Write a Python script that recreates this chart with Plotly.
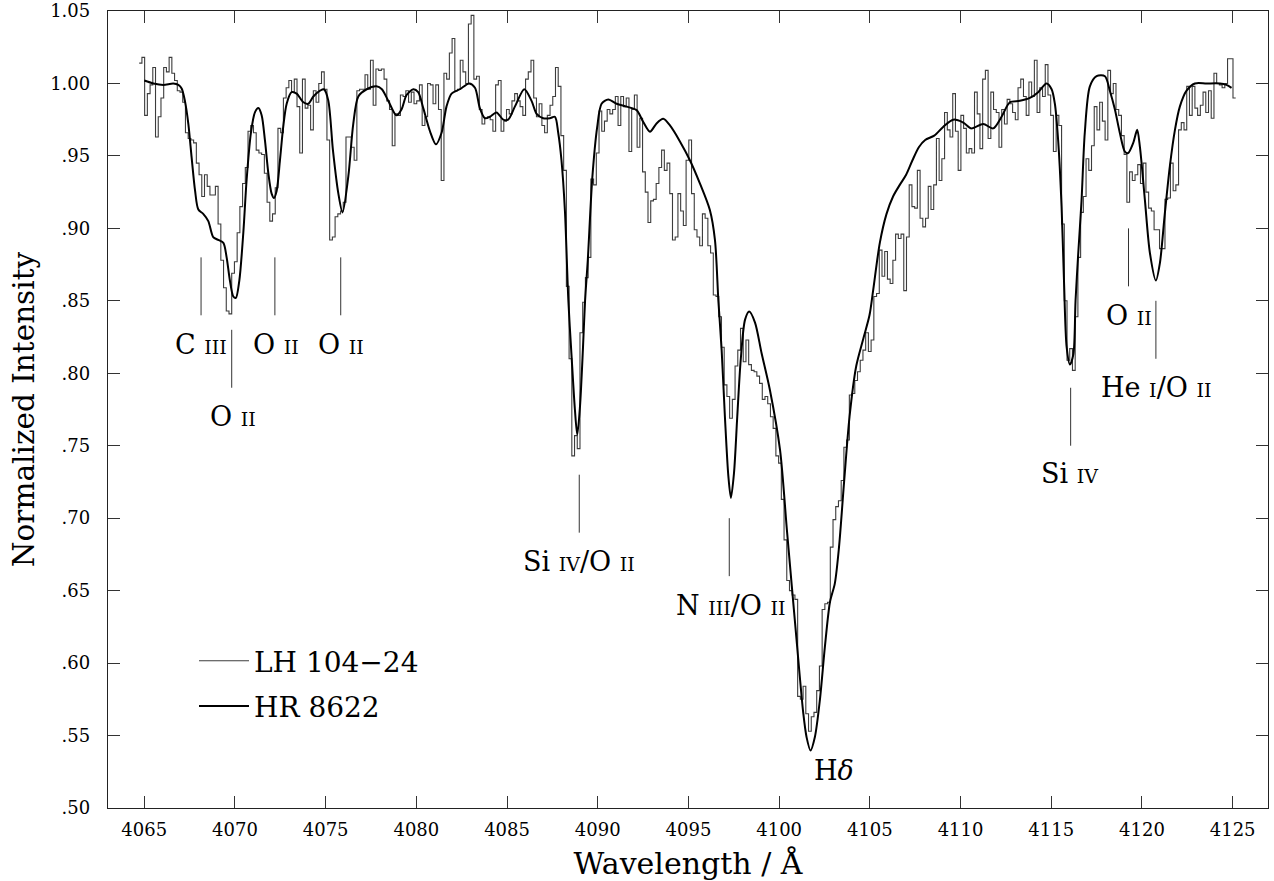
import plotly.graph_objects as go

# ---------------- data ----------------
# LH 104-24 : binned spectrum, first bin edge and bin width (Angstrom)
HIST_START = 4064.72
HIST_STEP = 0.15
lh_flux = [
    1.014, 1.018, 0.978, 0.993, 0.999, 1.011, 0.963, 0.977, 0.990, 1.011,
    1.008, 1.018, 1.007, 1.002, 0.995, 0.994, 0.987, 0.966, 0.962, 0.961,
    0.959, 0.945, 0.937, 0.922, 0.937, 0.929, 0.923, 0.923, 0.929, 0.903,
    0.878, 0.859, 0.843, 0.841, 0.869, 0.877, 0.897, 0.915, 0.931, 0.942,
    0.967, 0.971, 0.966, 0.954, 0.952, 0.951, 0.938, 0.918, 0.905, 0.910,
    0.928, 0.969, 0.966, 0.990, 0.997, 1.002, 0.994, 1.003, 0.984, 0.952,
    1.003, 0.983, 0.985, 0.968, 0.995, 0.987,
    1.000, 1.008, 0.996, 0.961, 0.892, 0.894, 0.908, 0.910, 0.912, 0.918,
    0.963, 0.963, 0.956, 0.947, 0.995, 0.996, 0.996, 1.006, 0.996, 1.016,
    0.985, 1.010, 1.009,
    1.010, 1.003, 0.988, 0.982, 0.957, 0.979, 0.978, 0.992, 0.991, 0.995,
    0.987, 0.994, 0.986, 0.988, 0.999, 0.971, 0.977, 1.000, 0.999, 0.986,
    0.999, 0.982, 0.933, 1.007, 1.003, 1.021, 1.031, 0.995, 0.996, 1.016,
    1.008, 1.000, 1.041, 1.047, 1.003, 1.005, 0.982, 0.972, 0.976, 0.977,
    0.975, 0.967, 0.999, 1.002, 0.967, 0.974, 0.982, 0.979, 0.988, 0.993,
    0.988, 0.984, 0.978, 1.003, 1.008, 1.016, 0.990, 0.977, 0.986, 0.971,
    0.966, 0.978, 0.985, 0.991, 1.011, 0.998, 0.964, 0.940,
    0.860, 0.810, 0.743, 0.757, 0.748, 0.828, 0.849, 0.866, 0.880, 0.934,
    0.930, 0.952, 0.981, 0.967, 0.974, 0.982, 0.979, 0.982, 0.991, 0.971,
    0.991, 0.984, 0.990, 0.953, 0.982, 0.992, 0.956, 0.976, 0.939, 0.925,
    0.904, 0.919, 0.920, 0.931, 0.942, 0.954, 0.940, 0.945, 0.924, 0.892,
    0.894, 0.924, 0.912, 0.902, 0.947, 0.961, 0.924, 0.899, 0.894, 0.888,
    0.910, 0.907, 0.888, 0.883, 0.854, 0.853, 0.839,
    0.818, 0.792, 0.784, 0.769, 0.782, 0.805, 0.816, 0.831, 0.808, 0.823,
    0.806, 0.802, 0.801, 0.798, 0.793, 0.782, 0.784, 0.779, 0.770, 0.762,
    0.743, 0.738, 0.713, 0.685, 0.657,
    0.650, 0.647, 0.644, 0.577, 0.575, 0.584, 0.565, 0.553, 0.563, 0.566,
    0.581, 0.598, 0.637, 0.641, 0.642, 0.680,
    0.699, 0.708, 0.712, 0.726, 0.749, 0.754, 0.785, 0.786, 0.795, 0.801,
    0.809, 0.816, 0.828, 0.815, 0.823,
    0.853, 0.855, 0.885, 0.867, 0.884, 0.865, 0.862, 0.878, 0.896, 0.893,
    0.896, 0.857, 0.894, 0.930, 0.915, 0.914, 0.940, 0.907, 0.901, 0.907,
    0.929, 0.913, 0.930, 0.962, 0.933, 0.948, 0.980, 0.968, 0.963, 0.993,
    0.967, 0.940, 0.978, 0.969, 0.952, 0.955, 0.952, 0.994, 0.979, 0.955,
    1.003, 1.009, 0.962, 0.994, 0.982, 0.980, 0.956, 0.982, 0.972, 0.989,
    0.986, 0.980, 0.975, 0.997, 1.003, 0.991, 0.978, 1.001, 0.991, 1.016,
    0.980, 0.997, 0.991, 1.013, 0.992, 0.978, 0.953, 0.978, 0.971, 0.903,
    0.850, 0.809, 0.817, 0.802, 0.839, 0.880, 0.911, 0.922, 0.948, 0.940,
    0.957, 0.984, 0.968, 0.987, 0.974, 0.961, 1.009, 0.993,
    1.000, 0.982, 0.978, 0.964, 0.951, 0.918, 0.939, 0.933, 0.937, 0.944,
    0.931, 0.945, 0.925, 0.914, 0.912, 0.899, 0.899, 0.886, 0.886, 0.920,
    0.921, 0.945, 0.926, 0.930, 0.968, 0.973, 0.968, 0.998, 0.978, 0.998,
    0.983, 0.978, 0.985, 0.994, 0.980, 0.995, 0.976, 1.007, 1.000, 0.999,
    0.997, 1.000, 1.017, 1.017, 0.990,
]

# HR 8622 : comparison spectrum (smooth)
hr_wave = [
    4065.00, 4065.50, 4066.05, 4066.60, 4066.88, 4067.06, 4067.24, 4067.43, 4067.61, 4067.80,
    4067.98, 4068.25, 4068.53, 4068.80, 4069.08, 4069.36, 4069.54, 4069.72, 4069.91, 4070.05,
    4070.24, 4070.46, 4070.64, 4070.88, 4071.10, 4071.29, 4071.47, 4071.65, 4071.84, 4072.02,
    4072.15, 4072.30, 4072.48, 4072.66, 4072.85, 4073.12, 4073.40, 4073.77, 4074.04, 4074.32,
    4074.69, 4074.90, 4075.14, 4075.40, 4075.70, 4075.93, 4076.25, 4076.52, 4076.80, 4077.26,
    4077.80, 4078.10, 4078.45, 4078.90, 4079.18, 4079.46, 4079.83, 4080.10, 4080.38, 4080.75,
    4081.08, 4081.39, 4081.66, 4081.94, 4082.40, 4082.91, 4083.23, 4083.50, 4083.78, 4084.05,
    4084.42, 4084.79, 4085.06, 4085.43, 4085.95, 4086.35, 4086.63, 4086.99, 4087.36, 4087.64,
    4087.82, 4088.00, 4088.19, 4088.38, 4088.56, 4088.74, 4088.87, 4089.02, 4089.18, 4089.30,
    4089.45, 4089.70, 4089.97, 4090.21, 4090.58, 4091.04, 4091.59, 4092.14, 4092.50, 4092.88,
    4093.24, 4093.61, 4093.98, 4094.53, 4095.08, 4095.63, 4096.18, 4096.46, 4096.65, 4096.83,
    4097.01, 4097.20, 4097.34, 4097.51, 4097.69, 4097.88, 4098.12, 4098.35, 4098.67, 4099.03,
    4099.49, 4100.05, 4100.44, 4100.96, 4101.33, 4101.51, 4101.73, 4101.97, 4102.25, 4102.52,
    4102.80, 4103.07, 4103.30, 4103.58, 4103.88, 4104.25, 4104.62, 4104.98, 4105.18, 4105.55,
    4105.92, 4106.28, 4106.65, 4107.00, 4107.35, 4107.70, 4108.05, 4108.55, 4109.04, 4109.60,
    4110.15, 4110.60, 4111.25, 4111.80, 4112.26, 4112.72, 4113.27, 4113.82, 4114.28, 4114.74,
    4115.02, 4115.20, 4115.38, 4115.57, 4115.70, 4115.85, 4116.03, 4116.22, 4116.34, 4116.49,
    4116.67, 4116.85, 4117.13, 4117.50, 4117.96, 4118.23, 4118.51, 4118.78, 4119.06, 4119.24,
    4119.52, 4119.74, 4119.89, 4120.16, 4120.44, 4120.77, 4120.99, 4121.26, 4121.54, 4121.82,
    4122.09, 4122.46, 4122.92, 4123.56, 4124.30, 4124.66, 4124.94,
]
hr_flux = [
    1.002, 1.000, 0.999, 1.000, 0.999, 0.9965, 0.988, 0.972, 0.949, 0.926,
    0.913, 0.910, 0.905, 0.894, 0.892, 0.890, 0.880, 0.864, 0.853, 0.852,
    0.864, 0.897, 0.933, 0.966, 0.980, 0.983, 0.978, 0.961, 0.938, 0.924,
    0.921, 0.926, 0.947, 0.970, 0.986, 0.994, 0.993, 0.987, 0.986, 0.991,
    0.995, 0.996, 0.9885, 0.954, 0.924, 0.911, 0.936, 0.972, 0.991, 0.996,
    0.998, 0.996, 0.988, 0.978, 0.982, 0.992, 0.996, 0.994, 0.983, 0.967,
    0.958, 0.966, 0.984, 0.993, 0.996, 1.000, 0.997, 0.983, 0.976, 0.977,
    0.980, 0.975, 0.975, 0.984, 0.996, 0.988, 0.979, 0.976, 0.976, 0.977,
    0.966, 0.947, 0.912, 0.850, 0.811, 0.775, 0.7575, 0.777, 0.816, 0.850,
    0.878, 0.935, 0.970, 0.986, 0.989, 0.986, 0.984, 0.9816, 0.9736, 0.9667,
    0.9724, 0.9756, 0.971, 0.960, 0.947, 0.931, 0.9126, 0.892, 0.850, 0.816,
    0.770, 0.729, 0.714, 0.731, 0.770, 0.809, 0.837, 0.8426, 0.835, 0.814,
    0.7885, 0.747, 0.690, 0.616, 0.5655, 0.549, 0.5397, 0.549, 0.575, 0.611,
    0.642, 0.655, 0.680, 0.725, 0.770, 0.805, 0.823, 0.840, 0.857, 0.890,
    0.910, 0.922, 0.930, 0.937, 0.947, 0.956, 0.961, 0.964, 0.970, 0.975,
    0.973, 0.969, 0.972, 0.969, 0.977, 0.987, 0.988, 0.990, 0.994, 1.000,
    0.996, 0.986, 0.961, 0.915, 0.865, 0.818, 0.806, 0.813, 0.850, 0.883,
    0.919, 0.966, 0.998, 1.005, 1.005, 0.995, 0.982, 0.966, 0.953, 0.952,
    0.959, 0.968, 0.956, 0.920, 0.883, 0.864, 0.876, 0.910, 0.943, 0.968,
    0.984, 0.995, 1.000, 1.000, 1.000, 0.999, 0.997,
]

# line identifications: wavelength of marker, marker top / bottom, label
mark_wave = [4068.13, 4069.82, 4072.20, 4075.83, 4088.98, 4097.25, 4116.07, 4119.26, 4120.77]
mark_top = [0.880, 0.830, 0.880, 0.880, 0.730, 0.700, 0.790, 0.900, 0.850]
mark_bottom = [0.840, 0.790, 0.840, 0.840, 0.690, 0.660, 0.750, 0.860, 0.810]
label_wave = [4068.13, 4069.87, 4072.25, 4075.83, 4088.96, 4097.34, 4116.01, 4119.26, 4120.76, 4103.00]
label_int = [0.820, 0.770, 0.820, 0.820, 0.670, 0.640, 0.731, 0.840, 0.790, 0.526]
label_text = ["C|III", "O|II", "O|II", "O|II", "Si|IV/O|II", "N|III/O|II", "Si|IV", "O|II", "He|I/O|II", "Hδ"]

x_ticks = [4065, 4070, 4075, 4080, 4085, 4090, 4095, 4100, 4105, 4110, 4115, 4120, 4125]
y_ticks = [0.50, 0.55, 0.60, 0.65, 0.70, 0.75, 0.80, 0.85, 0.90, 0.95, 1.00, 1.05]
y_ticktext = [".50", ".55", ".60", ".65", ".70", ".75", ".80", ".85", ".90", ".95", "1.00", "1.05"]

# ---------------- figure ----------------
FONT = "DejaVu Serif"
SMALL = 19


def ion_label(s):
    # "El|ION/El|ION" -> element letters + small roman numerals
    if s == "Hδ":
        return "H<i>δ</i>"
    parts = []
    for piece in s.split("/"):
        el, ion = piece.split("|")
        parts.append(f"{el} <span style='font-size:{SMALL}px'>{ion}</span>")
    return "/".join(parts)


lh_wave = [HIST_START + HIST_STEP * i for i in range(len(lh_flux) + 1)]
lh_vals = lh_flux + [lh_flux[-1]]

fig = go.Figure()
fig.add_trace(go.Scatter(
    x=lh_wave, y=lh_vals, mode="lines", name="LH 104−24",
    line=dict(color="#3c3c3c", width=1.1, shape="hv"),
    legendgroup="a",
))
fig.add_trace(go.Scatter(
    x=hr_wave, y=hr_flux, mode="lines", name="HR 8622",
    line=dict(color="black", width=2, shape="spline", smoothing=0.8),
    legendgroup="b",
))

for w, t, b in zip(mark_wave, mark_top, mark_bottom):
    fig.add_shape(type="line", x0=w, x1=w, y0=b, y1=t, xref="x", yref="y",
                  line=dict(color="#333333", width=1))

for w, i, s in zip(label_wave, label_int, label_text):
    fig.add_annotation(x=w, y=i, xref="x", yref="y", text=ion_label(s),
                       showarrow=False, xanchor="center", yanchor="middle",
                       font=dict(family=FONT, size=27, color="black"))

axis_common = dict(
    showline=True, linecolor="#222222", linewidth=1.3, mirror="ticks",
    ticks="inside", ticklen=12, tickwidth=1, tickcolor="#333333",
    showgrid=False, zeroline=False,
    tickfont=dict(family=FONT, size=18, color="black"),
)

fig.update_layout(
    width=1274, height=881,
    margin=dict(l=108, r=6, t=11, b=73, autoexpand=False),
    paper_bgcolor="white", plot_bgcolor="white",
    font=dict(family=FONT, color="black"),
    xaxis=dict(range=[4063.0, 4126.95], tickvals=x_ticks,
               ticktext=[str(v) for v in x_ticks],
               title=dict(text="Wavelength / Å", font=dict(family=FONT, size=30), standoff=15),
               ticklabelstandoff=5,
               **axis_common),
    yaxis=dict(range=[0.50, 1.05], tickvals=y_ticks, ticktext=y_ticktext,
               title=dict(text="Normalized Intensity", font=dict(family=FONT, size=29.5), standoff=6),
               ticklabelstandoff=13,
               **axis_common),
    showlegend=True,
    legend=dict(x=(199 - 108 - 5) / 1160, y=1 - (636 - 11) / 797, xanchor="left", yanchor="top",
                bgcolor="rgba(0,0,0,0)", borderwidth=0,
                font=dict(family=FONT, size=28, color="black"),
                traceorder="grouped", tracegroupgap=6, itemwidth=50),
)

fig.write_html("out.html", config={"displayModeBar": False},
               post_script="document.body.style.margin='0px';")
